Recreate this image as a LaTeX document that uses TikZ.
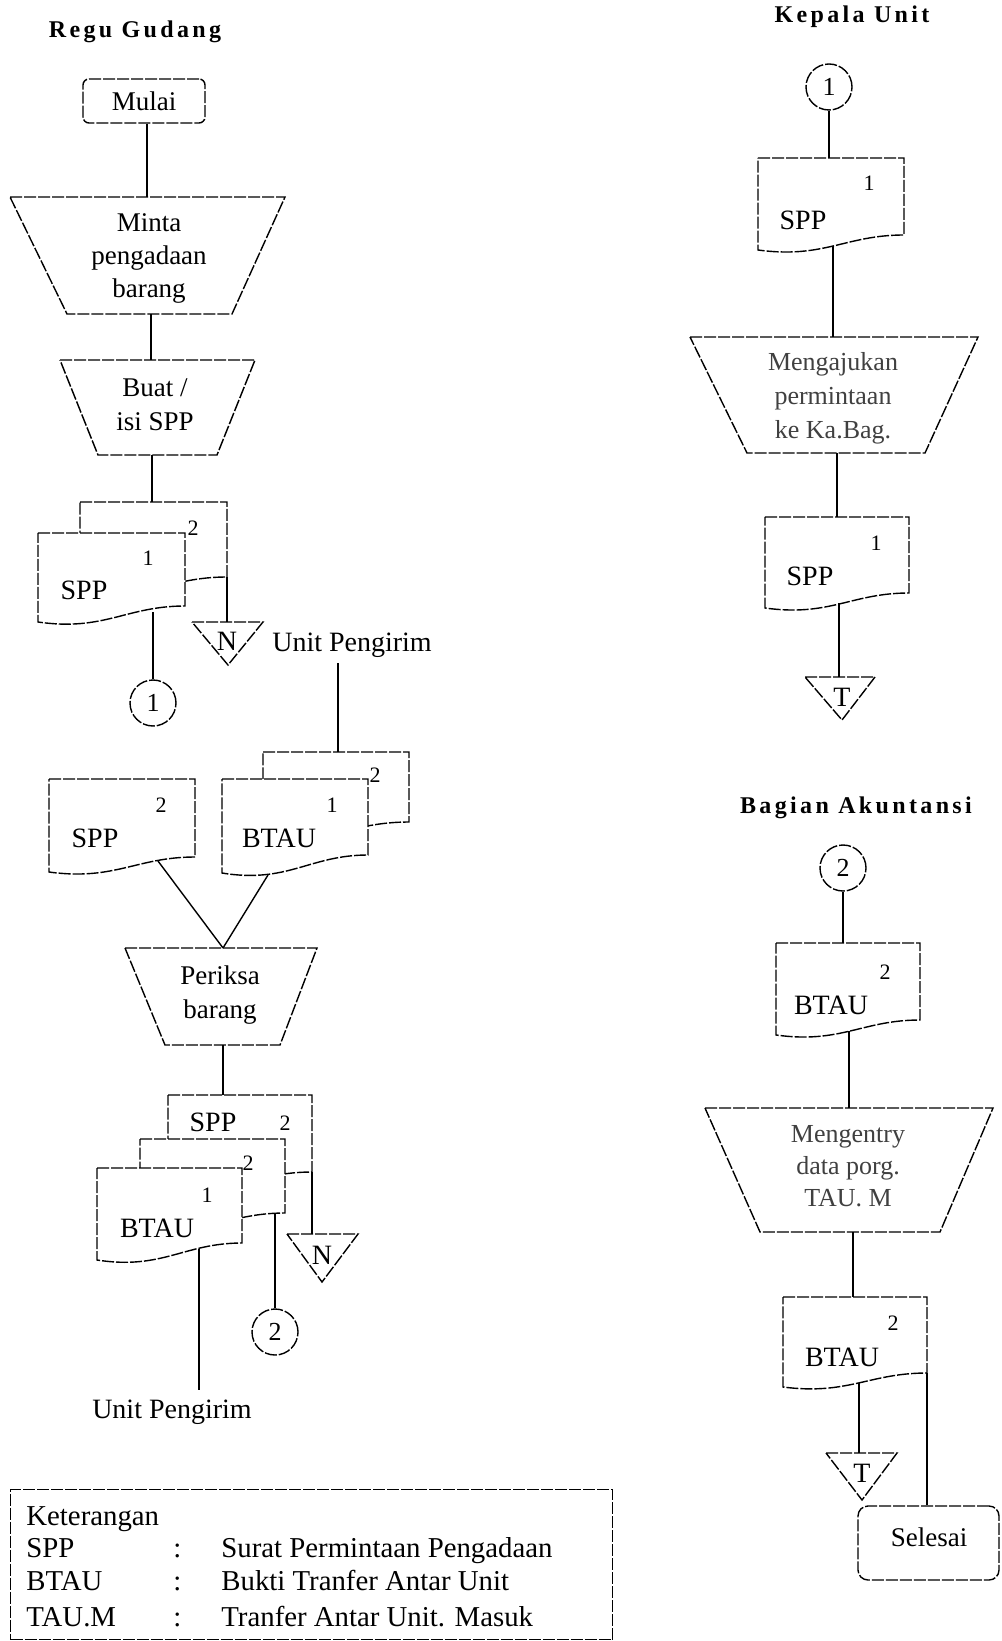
\documentclass[tikz,border=0pt]{standalone}
\usepackage{fontspec}
\setmainfont{Liberation Serif}
\newfontfamily\titlefont[LetterSpace=14]{Liberation Serif}

% document symbol: #1 left x, #2 top y, #3 right x, #4 right-bottom y, #5 left-bottom y
\newcommand\docu[5]{%
  \path[docshape] (#1,#2) -- (#3,#2) -- (#3,#4)
    .. controls ({#1+0.6*(#3-#1)},#4) and ({#1+0.45*(#3-#1)},{#5+0.6*(#5-#4)}) .. (#1,#5) -- cycle;}

\begin{document}
\begin{tikzpicture}[x=0.5pt,y=-0.5pt,
  outline/.style={draw, line width=0.7pt, dash pattern=on 6pt off 1pt},
  docshape/.style={outline, fill=white},
  wire/.style={draw, line width=0.7pt},
  lbl/.style={inner sep=0pt, font=\fontsize{13.5}{16.5}\selectfont, align=center},
  doctxt/.style={inner sep=0pt, font=\fontsize{14}{16}\selectfont},
  num/.style={inner sep=0pt, font=\fontsize{11}{12}\selectfont},
  conn/.style={circle, outline, minimum size=23pt, inner sep=0pt, font=\fontsize{13}{14}\selectfont},
  term/.style={outline, inner sep=0pt, font=\fontsize{13.5}{16}\selectfont},
  title/.style={inner sep=0pt, font=\titlefont\bfseries\fontsize{12}{14}\selectfont},
  legtxt/.style={inner sep=0pt, anchor=base west, font=\rmfamily\fontsize{14.4}{17}\selectfont},
]
\useasboundingbox (0,0) rectangle (1001,1641);

% ---------- titles ----------
\node[title] (tRegu) at (135,32) {Regu Gudang};
\node[title] (tKepala) at (852,17) {Kepala Unit};
\node[title] (tBagian) at (856,808) {Bagian Akuntansi};

% ---------- Regu Gudang ----------
\node[term, rounded corners=3pt, minimum width=61pt, minimum height=22pt] (mulai) at (144,101) {Mulai};

\draw[outline] (10,197) -- (285,197) -- (232,314) -- (67,314) -- cycle;
\node[lbl] (minta) at (149,258) {Minta\\pengadaan\\barang};
\coordinate (minta-n) at (147,197);
\coordinate (minta-s) at (151,314);

\draw[outline] (60,360) -- (255,360) -- (217,455) -- (98,455) -- cycle;
\node[lbl, font=\fontsize{13.5}{17}\selectfont] (buat) at (155,405) {Buat /\\isi SPP};
\coordinate (buat-n) at (151,360);
\coordinate (buat-s) at (152,455);

% SPP copies 1 and 2
\docu{80}{502}{227}{577}{592}
\docu{38}{533}{185}{606}{622}
\node[num] (sppB-num) at (193,528) {2};
\node[num] (sppA-num) at (148,558) {1};
\node[doctxt] (sppA) at (84,590) {SPP};
\coordinate (sppB-n) at (152,502);
\coordinate (sppB-s) at (227,577);
\coordinate (sppA-s) at (153,612);

\draw[outline] (192,622) -- (263,622) -- (228,665) -- cycle;
\node[doctxt] (triN1) at (227,641) {N};
\coordinate (triN1-n) at (227,622);

\node[conn] (c1a) at (153,703) {1};

\node[doctxt] (unitA) at (352,645) {Unit Pengirim};
\coordinate (unitA-s) at (338,663);
\coordinate (btauB-n) at (338,752);

% BTAU copies from the sending unit, SPP copy 2
\docu{263}{752}{409}{822}{836}
\docu{222}{779}{368}{855}{873}
\node[num] (btauB-num) at (375,775) {2};
\node[num] (btauA-num) at (332,805) {1};
\node[doctxt] (btauA) at (279,838) {BTAU};
\docu{49}{779}{195}{857}{872}
\node[num] (sppC-num) at (161,805) {2};
\node[doctxt] (sppC) at (95,838) {SPP};
\coordinate (sppC-s) at (158,861);
\coordinate (btauA-s) at (268,875);

\draw[outline] (125,948) -- (317,948) -- (280,1045) -- (165,1045) -- cycle;
\node[lbl, font=\fontsize{13.5}{17}\selectfont] (periksa) at (220,995) {Periksa\\barang};
\coordinate (periksa-n) at (223,948);
\coordinate (periksa-s) at (223,1045);

% stack after checking
\docu{168}{1095}{312}{1172}{1187}
\docu{140}{1139}{285}{1213}{1228}
\docu{97}{1168}{242}{1243}{1260}
\node[doctxt] (sppD) at (213,1122) {SPP};
\node[num] (sppD-num) at (285,1123) {2};
\node[num] (btauD-num) at (248,1163) {2};
\node[num] (btauC-num) at (207,1195) {1};
\node[doctxt] (btauC) at (157,1228) {BTAU};
\coordinate (sppD-n) at (223,1095);
\coordinate (sppD-s) at (312,1172);
\coordinate (btauD-s) at (275,1214);
\coordinate (btauC-s) at (199,1249);

\draw[outline] (287,1234) -- (358,1234) -- (322,1282) -- cycle;
\node[doctxt] (triN2) at (322,1255) {N};
\coordinate (triN2-n) at (312,1234);

\node[conn] (c2a) at (275,1332) {2};

\node[doctxt] (unitB) at (172,1412) {Unit Pengirim};
\coordinate (unitB-n) at (199,1390);

% connectors, left column
\draw[wire] (mulai.south -| minta-n) -- (minta-n);
\draw[wire] (minta-s) -- (buat-n);
\draw[wire] (buat-s) -- (sppB-n);
\draw[wire] (sppB-s) -- (triN1-n);
\draw[wire] (sppA-s) -- (c1a.north);
\draw[wire] (unitA-s) -- (btauB-n);
\draw[wire] (sppC-s) -- (periksa-n);
\draw[wire] (btauA-s) -- (periksa-n);
\draw[wire] (periksa-s) -- (sppD-n);
\draw[wire] (sppD-s) -- (triN2-n);
\draw[wire] (btauD-s) -- (c2a.north);
\draw[wire] (btauC-s) -- (unitB-n);

% ---------- legend ----------
\node[outline, minimum width=301pt, minimum height=75pt, anchor=north west, inner sep=0pt] (legend) at (10,1489) {};
\node[legtxt] (kt) at (26,1525) {Keterangan};
\node[legtxt] (k1) at (26,1557) {SPP};
\node[legtxt] (k2) at (26,1590) {BTAU};
\node[legtxt] (k3) at (26,1626) {TAU.M};
\node[legtxt] (c1) at (173,1557) {:};
\node[legtxt] (c2) at (173,1590) {:};
\node[legtxt] (c3) at (173,1626) {:};
\node[legtxt] (d1) at (221,1557) {Surat Permintaan Pengadaan};
\node[legtxt] (d2) at (221,1590) {Bukti Tranfer Antar Unit};
\node[legtxt] (d3) at (221,1626) {Tranfer Antar Unit. Masuk};

% ---------- Kepala Unit ----------
\node[conn] (c1b) at (829,87) {1};
\docu{758}{158}{904}{235}{250}
\node[num] (sppE-num) at (869,183) {1};
\node[doctxt] (sppE) at (803,220) {SPP};
\coordinate (sppE-n) at (829,158);
\coordinate (sppE-s) at (833,246);

\draw[outline] (690,337) -- (978,337) -- (925,453) -- (747,453) -- cycle;
\node[lbl, font=\fontsize{13}{17}\selectfont, text=black!75] (ajukan) at (833,398) {Mengajukan\\permintaan\\ke Ka.Bag.};
\coordinate (ajukan-n) at (833,337);
\coordinate (ajukan-s) at (837,453);

\docu{765}{517}{909}{593}{608}
\node[num] (sppF-num) at (876,543) {1};
\node[doctxt] (sppF) at (810,576) {SPP};
\coordinate (sppF-n) at (837,517);
\coordinate (sppF-s) at (839,603);

\draw[outline] (805,677) -- (875,677) -- (842,720) -- cycle;
\node[doctxt] (triT1) at (842,697) {T};
\coordinate (triT1-n) at (839,677);

\draw[wire] (c1b.south) -- (sppE-n);
\draw[wire] (sppE-s) -- (ajukan-n);
\draw[wire] (ajukan-s) -- (sppF-n);
\draw[wire] (sppF-s) -- (triT1-n);

% ---------- Bagian Akuntansi ----------
\node[conn] (c2b) at (843,868) {2};
\docu{776}{943}{920}{1020}{1035}
\node[num] (btauE-num) at (885,972) {2};
\node[doctxt] (btauE) at (831,1005) {BTAU};
\coordinate (btauE-n) at (843,943);
\coordinate (btauE-s) at (849,1031);

\draw[outline] (705,1108) -- (993,1108) -- (940,1232) -- (760,1232) -- cycle;
\node[lbl, font=\fontsize{13}{16}\selectfont, text=black!75] (entry) at (848,1166) {Mengentry\\data porg.\\TAU. M};
\coordinate (entry-n) at (849,1108);
\coordinate (entry-s) at (853,1232);

\docu{783}{1297}{927}{1373}{1387}
\node[num] (btauF-num) at (893,1323) {2};
\node[doctxt] (btauF) at (842,1357) {BTAU};
\coordinate (btauF-n) at (853,1297);
\coordinate (btauF-s) at (859,1383);
\coordinate (btauF-r) at (927,1373);

\draw[outline] (826,1453) -- (897,1453) -- (862,1500) -- cycle;
\node[doctxt] (triT2) at (862,1473) {T};
\coordinate (triT2-n) at (859,1453);

\node[term, rounded corners=5pt, minimum width=70.5pt, minimum height=37pt] (selesai) at (928.5,1543) {};
\node[lbl] (selesai-txt) at (929,1537) {Selesai};

\draw[wire] (c2b.south) -- (btauE-n);
\draw[wire] (btauE-s) -- (entry-n);
\draw[wire] (entry-s) -- (btauF-n);
\draw[wire] (btauF-s) -- (triT2-n);
\draw[wire] (btauF-r) -- (btauF-r |- selesai.north);
\end{tikzpicture}
\end{document}
